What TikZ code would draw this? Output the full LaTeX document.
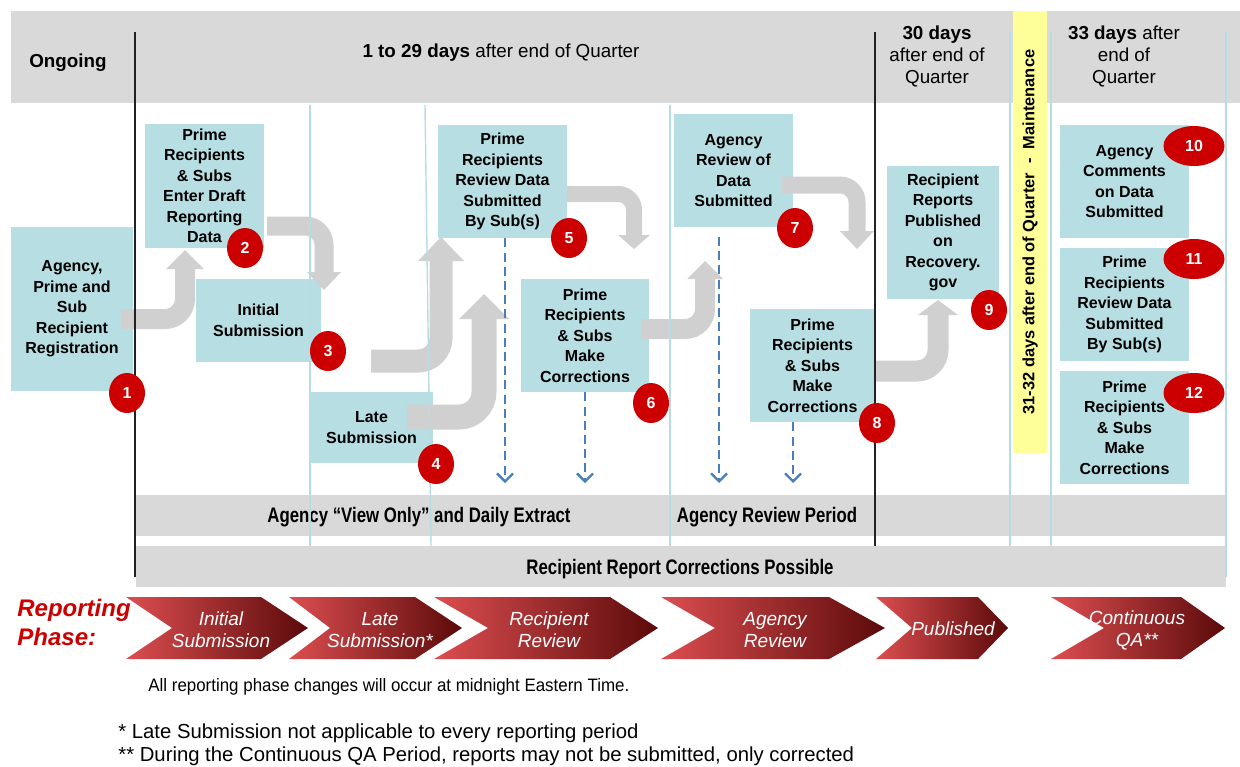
\documentclass[tikz,border=0pt]{standalone}
\usepackage{fontspec}
\setmainfont{Liberation Sans}
\newfontfamily\narrowf[FakeStretch=0.8]{Liberation Sans}
\newfontfamily\semif[FakeStretch=0.94]{Liberation Sans}
\usetikzlibrary{shapes.geometric,arrows.meta,calc}
\definecolor{hdrgrey}{RGB}{217,217,217}
\definecolor{boxteal}{RGB}{183,222,226}
\definecolor{arrgrey}{RGB}{208,208,208}
\definecolor{badgered}{RGB}{204,0,0}
\definecolor{thinblue}{RGB}{183,221,227}
\definecolor{dashblue}{RGB}{74,126,187}
\definecolor{yel}{RGB}{255,255,153}
\definecolor{chevL}{RGB}{220,78,80}
\definecolor{chevR}{RGB}{92,10,10}
\definecolor{phasered}{RGB}{204,0,0}
\definecolor{blackline}{RGB}{34,34,34}
\tikzset{
  box/.style={fill=boxteal, inner sep=0pt, align=center, font=\fontsize{8}{10.25}\selectfont\bfseries},
  badge/.style={ellipse, fill=badgered, text=white, inner sep=0pt, minimum width=18pt, minimum height=20pt, font=\fontsize{8}{9}\selectfont\bfseries},
  widebadge/.style={badge, minimum width=30.5pt},
  hdr/.style={align=center, inner sep=0pt, font=\fontsize{9.4}{11}\selectfont},
  bartext/.style={inner sep=0pt, font=\narrowf\fontsize{10.5}{12}\selectfont\bfseries},
  thinrule/.style={thinblue, line width=0.7pt},
  blackrule/.style={blackline, line width=1pt},
  dasharrow/.style={dashblue, line width=1.15pt, dash pattern=on 4.5pt off 2.6pt, -{Straight Barb[length=4pt,width=8pt]}},
  chevtext/.style={text=white, align=center, inner sep=0pt, font=\fontsize{9.5}{11}\selectfont\itshape},
}
\newcommand\bx[6]{\node[box, minimum width={(#4-#2)*0.5pt}, minimum height={(#5-#3)*0.5pt}] (#1) at ({(#2+#4)/2},{(#3+#5)/2}) {#6};}
\newcommand\elbow[5]{%
  \draw[arrgrey, line width=#4*0.5pt, rounded corners=#4*0.5pt] (#1) -| (#2);
  \fill[arrgrey] ($(#2)+(-#5,0)$) -- ($(#2)+(#5,0)$) -- (#3) -- cycle;}
\newcommand\chev[4]{%
  \shade[left color=chevL, right color=chevR] (#1,597) -- (#3,597) -- (#4,628) -- (#3,659) -- (#1,659) -- (#2,628) -- cycle;}
\begin{document}
\begin{tikzpicture}[x=0.5pt,y=-0.5pt]
\useasboundingbox (0,0) rectangle (1240,766);
% header band and maintenance column
\fill[hdrgrey] (11,11) rectangle (1240,103);
\fill[yel] (1013,11) rectangle (1047,453);
% bottom bars
\fill[hdrgrey] (135,495) rectangle (1226,536);
\fill[hdrgrey] (136,546) rectangle (1226,587);
% header texts
\node[hdr] (ongo) at (68,63) {\bfseries Ongoing};
\node[hdr] (h1) at (501,53) {\textbf{1 to 29 days} after end of Quarter};
\node[hdr] (h2) at (937,56.5) {\textbf{30 days}\\after end of\\Quarter};
\node[hdr] (h3) at (1124,56.5) {\textbf{33 days} after\\end of\\Quarter};
\node[rotate=90, inner sep=0pt, font=\fontsize{8.2}{10}\selectfont\bfseries] (maint) at (1030,232) {31-32 days after end of Quarter\ \ -\ \ Maintenance};
% bar texts
\node[bartext] (view) at (419,517) {Agency “View Only” and Daily Extract};
\node[bartext] (arp) at (767,517) {Agency Review Period};
\node[bartext] (rrc) at (680,569) {Recipient Report Corrections Possible};
% boxes
\bx{n1}{11}{227}{133}{391}{Agency,\\Prime and\\Sub\\Recipient\\Registration}
\bx{n2}{145}{124}{264}{248}{Prime\\Recipients\\\& Subs\\Enter Draft\\Reporting\\Data}
\bx{n3}{196}{279}{321}{362}{Initial\\Submission}
\bx{n4}{310}{392}{433}{463}{Late\\Submission}
\bx{n5}{438}{125}{567}{238}{Prime\\Recipients\\Review Data\\Submitted\\By Sub(s)}
\bx{n6}{521}{279}{649}{392}{Prime\\Recipients\\\& Subs\\Make\\Corrections}
\bx{n7}{674}{114}{793}{227}{Agency\\Review of\\Data\\Submitted}
\bx{n8}{750}{309}{875}{422}{Prime\\Recipients\\\& Subs\\Make\\Corrections}
\bx{n9}{887}{166}{999}{299}{Recipient\\Reports\\Published\\on\\Recovery.\\gov}
\bx{n10}{1060}{125}{1189}{238}{Agency\\Comments\\on Data\\Submitted}
\bx{n11}{1060}{248}{1189}{361}{Prime\\Recipients\\Review Data\\Submitted\\By Sub(s)}
\bx{n12}{1060}{371}{1189}{484}{Prime\\Recipients\\\& Subs\\Make\\Corrections}
% grey elbow arrows
\coordinate (A-s) at (121,319); \coordinate (A-b) at (185,269); \coordinate (A-t) at (185,250);
\coordinate (B-s) at (267,226); \coordinate (B-b) at (324,272); \coordinate (B-t) at (324,290);
\coordinate (C-s) at (371,361); \coordinate (C-b) at (441,261); \coordinate (C-t) at (441,237);
\coordinate (D-s) at (407,417); \coordinate (D-b) at (484,319); \coordinate (D-t) at (484,294);
\coordinate (E-s) at (567,194); \coordinate (E-b) at (634,235); \coordinate (E-t) at (634,249);
\coordinate (F-s) at (641,329); \coordinate (F-b) at (705,279); \coordinate (F-t) at (705,261);
\coordinate (G-s) at (782,185); \coordinate (G-b) at (857,231); \coordinate (G-t) at (857,249);
\coordinate (H-s) at (875,371); \coordinate (H-b) at (938,315); \coordinate (H-t) at (938,300);
\elbow{A-s}{A-b}{A-t}{20}{19}
\elbow{B-s}{B-b}{B-t}{19}{17}
\elbow{C-s}{C-b}{C-t}{23}{23}
\elbow{D-s}{D-b}{D-t}{25}{25}
\elbow{E-s}{E-b}{E-t}{16}{16}
\elbow{F-s}{F-b}{F-t}{20}{18}
\elbow{G-s}{G-b}{G-t}{17}{17}
\elbow{H-s}{H-b}{H-t}{21}{20}
% dashed arrows
\coordinate (d1) at (505,483); \coordinate (d2) at (585,483);
\coordinate (d3) at (719,483); \coordinate (d3s) at (719,237); \coordinate (d4) at (793,483);
\draw[dasharrow] (n5.south -| d1) -- (d1);
\draw[dasharrow] (n6.south -| d2) -- (d2);
\draw[dasharrow] (d3s) -- (d3);
\draw[dasharrow] (n8.south -| d4) -- (d4);
% thin column rules
\draw[thinrule] (310,105) -- (310,546);
\draw[thinrule] (425,105) -- (431,546);
\draw[thinrule] (670,105) -- (670,546);
\draw[thinrule] (1010,32) -- (1010,546);
\draw[thinrule] (1051,32) -- (1051,546);
\draw[thinrule] (1226,32) -- (1226,577);
% black rules
\draw[blackrule] (135,32) -- (135,577);
\draw[blackrule] (875,32) -- (875,546);
% badges
\node[badge] (b1) at (127,393) {1};
\node[badge] (b2) at (245,248) {2};
\node[badge] (b3) at (328,351) {3};
\node[badge] (b4) at (436,464) {4};
\node[badge] (b5) at (569,238) {5};
\node[badge] (b6) at (651,403) {6};
\node[badge] (b7) at (795,228) {7};
\node[badge] (b8) at (877,423) {8};
\node[badge] (b9) at (989,310) {9};
\node[widebadge] (b10) at (1194,146) {10};
\node[widebadge] (b11) at (1194,259) {11};
\node[widebadge] (b12) at (1194,393) {12};
% reporting phase chevrons
\node[anchor=west, align=left, inner sep=0pt, text=phasered, font=\fontsize{12}{14.5}\selectfont\bfseries\itshape] (rp) at (17,622) {Reporting\\Phase:};
\chev{126}{172}{261}{308}
\chev{289}{330}{415}{462}
\chev{434}{488}{610}{658}
\chev{661}{715}{829}{885}
\chev{876}{912}{978}{1008}
\chev{1051}{1104}{1181}{1225}
\node[chevtext] (c1) at (221,630) {Initial\\Submission};
\node[chevtext] (c2) at (380,630) {Late\\Submission*};
\node[chevtext] (c3) at (549,630) {Recipient\\Review};
\node[chevtext] (c4) at (775,630) {Agency\\Review};
\node[chevtext] (c5) at (953,629) {Published};
\node[chevtext] (c6) at (1137,630) {Continuous\\QA**};
% notes
\node[anchor=west, inner sep=0pt, font=\semif\fontsize{9}{10}\selectfont] (note) at (148,687) {All reporting phase changes will occur at midnight Eastern Time.};
\node[anchor=west, inner sep=0pt, font=\fontsize{10.15}{12}\selectfont] (fn1) at (118,733) {* Late Submission not applicable to every reporting period};
\node[anchor=west, inner sep=0pt, font=\fontsize{10.15}{12}\selectfont] (fn2) at (118,756) {** During the Continuous QA Period, reports may not be submitted, only corrected};
\end{tikzpicture}
\end{document}
